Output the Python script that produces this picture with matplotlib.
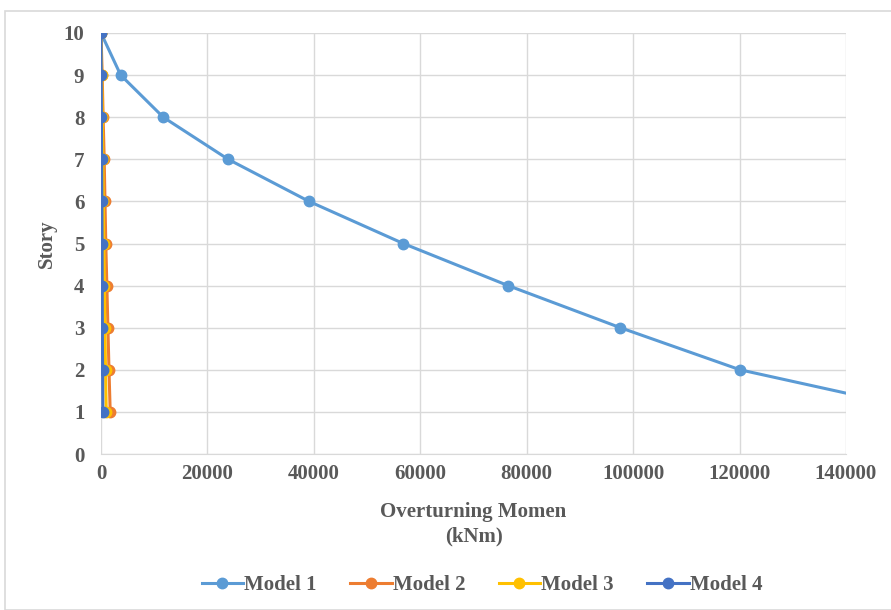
import matplotlib
matplotlib.use("Agg")
import matplotlib.pyplot as plt
from matplotlib.patches import Rectangle

stories = [1, 2, 3, 4, 5, 6, 7, 8, 9, 10]
model1 = [156000, 120100, 97600, 76500, 56800, 39100, 23900, 11700, 3700, 0]
model2 = [1730, 1500, 1300, 1100, 900, 750, 600, 400, 220, 0]
model3 = [980, 850, 740, 640, 540, 440, 340, 240, 130, 0]
model4 = [340, 300, 260, 230, 200, 160, 120, 80, 40, 0]
series_names = ["Model 1", "Model 2", "Model 3", "Model 4"]
colors = ["#5B9BD5", "#ED7D31", "#FFC000", "#4472C4"]
xticks = [0, 20000, 40000, 60000, 80000, 100000, 120000, 140000]
yticks = [0, 1, 2, 3, 4, 5, 6, 7, 8, 9, 10]

plt.rcParams['font.family'] = ['Liberation Serif', 'DejaVu Serif']
txt = "#595959"
fs = 15

W, H = 891, 610
fig = plt.figure(figsize=(W / 100, H / 100), dpi=100)
fig.patches.append(Rectangle((5 / W, 0), 1, 1 - 11 / H, transform=fig.transFigure,
                             fill=False, edgecolor="#d9d9d9", linewidth=1.2))
ax = fig.add_axes([101 / W, 1 - 454 / H, (846 - 101) / W, (454 - 33) / H])

for name, vals, c in zip(series_names, [model1, model2, model3, model4], colors):
    ax.plot(vals, stories, color=c, linewidth=2.2, marker="o", markersize=7.5,
            label=name, clip_on=True)

ax.set_xlim(0, 140000)
ax.set_ylim(0, 10)
ax.set_xticks(xticks)
ax.set_yticks(yticks)
ax.set_xticklabels([str(v) for v in xticks])
ax.grid(True, color="#d9d9d9", linewidth=1.0)
ax.set_axisbelow(True)
for s in ["top", "right", "left"]:
    ax.spines[s].set_visible(False)
ax.spines["bottom"].set_color("#d9d9d9")
ax.tick_params(length=0, labelsize=fs, colors=txt)
ax.tick_params(axis="x", pad=7)
ax.tick_params(axis="y", pad=12)
for lab in ax.get_xticklabels() + ax.get_yticklabels():
    lab.set_fontweight("bold")

ax.set_xlabel("Overturning Momen\n(kNm)", fontsize=fs, fontweight="bold", color=txt,
              labelpad=13, linespacing=1.3)
ax.set_ylabel("Story", fontsize=fs, fontweight="bold", color=txt, labelpad=5)

leg = fig.legend(loc="center", bbox_to_anchor=(482 / W, 1 - 585 / H), ncol=4,
                 frameon=False, prop={"size": fs, "weight": "bold"},
                 handlelength=2.0, handletextpad=0.05, columnspacing=1.6)
for t in leg.get_texts():
    t.set_color(txt)

fig.savefig("out.png", dpi=100)
